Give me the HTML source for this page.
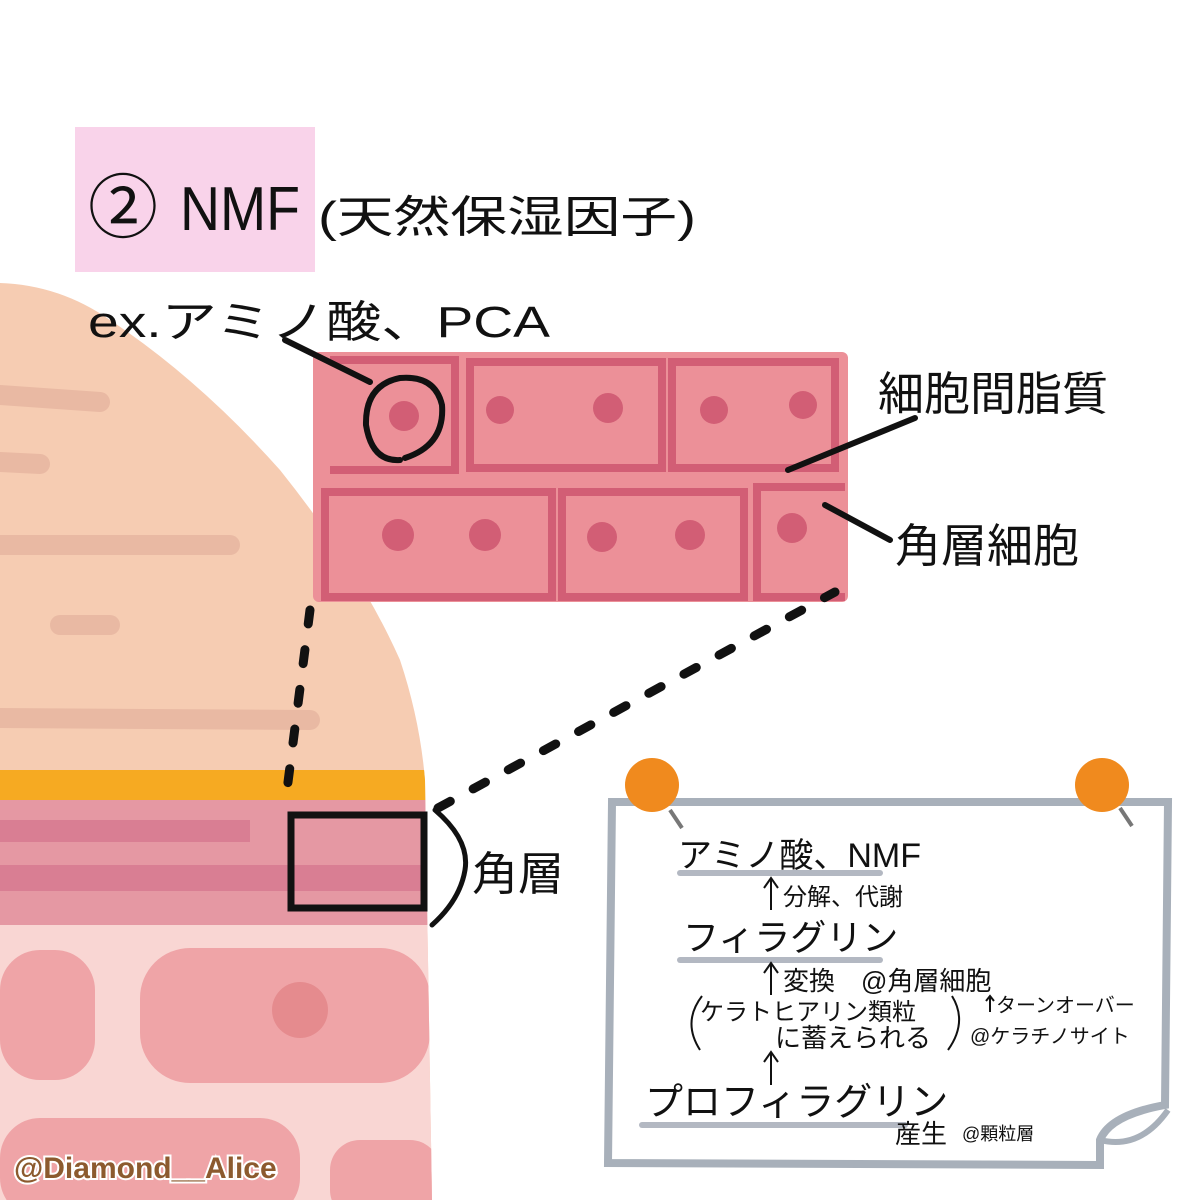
<!DOCTYPE html><html><head><meta charset="utf-8"><style>body{margin:0;background:#fff}svg{display:block}</style></head><body>
<svg width="1200" height="1200" viewBox="0 0 1200 1200" xmlns="http://www.w3.org/2000/svg" font-family="'Liberation Sans','Noto Sans CJK JP',sans-serif">
<defs><clipPath id="sk"><path d="M0,283 Q60,285 110,320 Q200,380 280,470 Q360,570 400,660 Q420,720 425,780 L432,1200 L0,1200 Z"/></clipPath></defs>
<g clip-path="url(#sk)">
<rect width="1200" height="1200" fill="#f6ccb2"/>
<g stroke="#e9b9a3" stroke-width="20" stroke-linecap="round" fill="none">
<path d="M0,395 L100,402"/><path d="M0,462 L40,464"/><path d="M0,545 L230,545"/><path d="M60,625 L110,625"/><path d="M0,718 L310,720"/>
</g>
<rect x="0" y="770" width="432" height="30" fill="#f6aa22"/>
<rect x="0" y="800" width="432" height="125" fill="#e598a3"/>
<rect x="0" y="820" width="250" height="22" fill="#d97e93"/>
<rect x="0" y="865" width="432" height="26" fill="#d97e93"/>
<rect x="0" y="925" width="432" height="275" fill="#f9d6d3"/>
<rect x="0" y="950" width="95" height="130" rx="40" fill="#efa4a7"/>
<rect x="140" y="948" width="290" height="135" rx="50" fill="#efa4a7"/>
<circle cx="300" cy="1010" r="28" fill="#e58b8e"/>
<rect x="0" y="1118" width="300" height="100" rx="40" fill="#efa4a7"/>
<rect x="330" y="1140" width="110" height="80" rx="30" fill="#efa4a7"/>
</g>
<rect x="75" y="127" width="240" height="145" fill="#f9d3ea"/>
<text x="88" y="232" font-size="70" fill="#111">②</text>
<text x="180" y="230" font-size="62" fill="#111" textLength="120" lengthAdjust="spacingAndGlyphs">NMF</text>
<text x="318" y="232" font-size="44" fill="#111" textLength="378" lengthAdjust="spacingAndGlyphs">(天然保湿因子)</text>
<text x="88" y="337" font-size="44" fill="#111" textLength="462" lengthAdjust="spacingAndGlyphs">ex.アミノ酸、PCA</text>
<rect x="313" y="352" width="535" height="250" rx="6" fill="#ec9098"/>
<g fill="none" stroke="#d25e75" stroke-width="8">
<path d="M330,360 L455,360 L455,470 L330,470"/>
<rect x="470" y="362" width="192" height="106"/>
<rect x="672" y="362" width="163" height="106"/>
<rect x="325" y="492" width="227" height="105"/>
<rect x="562" y="492" width="182" height="105"/>
<path d="M845,487 L757,487 L757,597 L845,597"/>
</g>
<g fill="#d25e75">
<circle cx="404" cy="416" r="15"/><circle cx="500" cy="410" r="14"/><circle cx="608" cy="408" r="15"/><circle cx="714" cy="410" r="14"/><circle cx="803" cy="405" r="14"/>
<circle cx="398" cy="535" r="16"/><circle cx="485" cy="535" r="16"/><circle cx="602" cy="537" r="15"/><circle cx="690" cy="535" r="15"/><circle cx="792" cy="528" r="15"/>
</g>
<g fill="none" stroke="#111" stroke-width="6" stroke-linecap="round">
<path d="M285,340 L370,382"/>
<path d="M405,458 Q445,445 442,405 Q435,375 400,378 Q365,385 366,425 Q372,462 400,460"/>
<path d="M788,470 L915,418"/>
<path d="M825,505 L890,540"/>
<rect x="291" y="815" width="133" height="93" stroke-width="7"/>
<path d="M435,810 Q470,840 465,870 Q460,900 432,925" stroke-width="5"/>
</g>
<g stroke="#111" stroke-width="9" stroke-linecap="round" stroke-dasharray="14 26" fill="none">
<path d="M310,610 L287,790"/>
<path d="M438,808 L835,592"/>
</g>
<text x="878" y="410" font-size="46" fill="#111">細胞間脂質</text>
<text x="895" y="562" font-size="46" fill="#111">角層細胞</text>
<text x="472" y="890" font-size="46" fill="#111">角層</text>
<path d="M612,802 L1168,802 L1165,1105 Q1110,1115 1100,1140 L1100,1165 L608,1163 Z" fill="#fff" stroke="#a8b0ba" stroke-width="8"/>
<path d="M1100,1140 Q1140,1150 1168,1110" fill="none" stroke="#a8b0ba" stroke-width="6"/>
<g fill="#f08a1e"><circle cx="652" cy="785" r="27"/><circle cx="1102" cy="785" r="27"/></g>
<g stroke="#777" stroke-width="4"><path d="M670,810 L682,828"/><path d="M1120,808 L1132,826"/></g>
<g stroke="#b3b8c2" stroke-width="6" stroke-linecap="round">
<path d="M680,873 L880,873"/><path d="M680,960 L880,960"/><path d="M642,1125 L905,1125"/>
</g>
<g stroke="#111" stroke-width="2" fill="none">
<path d="M771,910 L771,878 M764,888 L771,878 L778,888"/>
<path d="M771,995 L771,963 M764,973 L771,963 L778,973"/>
<path d="M771,1085 L771,1052 M764,1062 L771,1052 L778,1062"/>
<path d="M990,1012 L990,996 M986,1001 L990,996 L994,1001"/>
<path d="M702,996 Q682,1022 700,1050"/>
<path d="M952,996 Q968,1022 948,1050"/>
</g>
<g fill="#111">
<text x="678" y="867" font-size="34">アミノ酸、NMF</text>
<text x="783" y="905" font-size="24">分解、代謝</text>
<text x="683" y="950" font-size="36">フィラグリン</text>
<text x="783" y="990" font-size="26">変換　@角層細胞</text>
<text x="700" y="1020" font-size="24">ケラトヒアリン類粒</text>
<text x="775" y="1047" font-size="26">に蓄えられる</text>
<text x="996" y="1012" font-size="20">ターンオーバー</text>
<text x="970" y="1043" font-size="20">@ケラチノサイト</text>
<text x="645" y="1115" font-size="38">プロフィラグリン</text>
<text x="895" y="1143" font-size="26">産生</text>
<text x="962" y="1140" font-size="18">@顆粒層</text>
</g>
<text x="14" y="1178" font-size="30" font-weight="bold" fill="#8c5a2e" stroke="#fff" stroke-width="4" paint-order="stroke">@Diamond__Alice</text>
</svg>
</body></html>
